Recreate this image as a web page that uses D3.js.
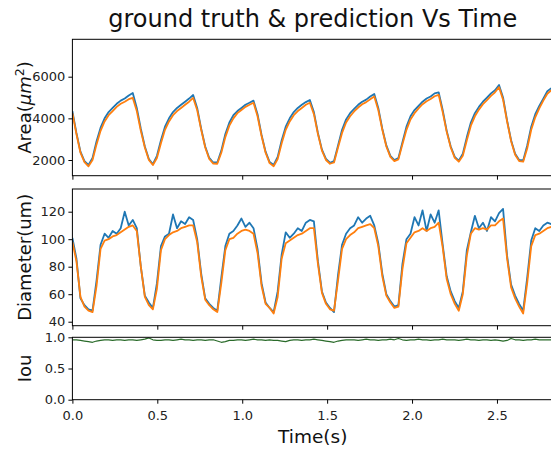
<!DOCTYPE html>
<html>
<head>
<meta charset="utf-8">
<script src="https://cdn.jsdelivr.net/npm/d3@7"></script>
<style>
  body { margin: 0; background: #fff; }
  svg { display: block; font-family: "DejaVu Sans", sans-serif; }
</style>
</head>
<body>
<div id="chart"></div>
<script>
// sampling step of the recording (s)
const dt = 0.0237;

const areaTruth = [
  4350, 3300, 2400, 1950, 1760, 2100, 2900, 3550, 4000, 4300,
  4500, 4700, 4850, 4950, 5100, 5220, 4500, 3500, 2650, 2050,
  1800, 2200, 2950, 3600, 4000, 4300, 4500, 4650, 4800, 4950,
  5120, 4500, 3500, 2650, 2100, 1880, 1880, 2450, 3250, 3800,
  4150, 4350, 4500, 4650, 4750, 4850, 4200, 3200, 2400, 1900,
  1760, 2150, 2950, 3600, 4000, 4300, 4500, 4650, 4780, 4880,
  4300, 3300, 2500, 2050, 1870, 1950, 2700, 3450, 3950, 4250,
  4450, 4650, 4800, 4900, 5050, 5170, 4500, 3500, 2700, 2200,
  2000, 2100, 2850, 3600, 4100, 4400, 4600, 4800, 4950, 5050,
  5200, 5250, 4400, 3400, 2650, 2150, 1970, 2300, 3100, 3800,
  4250, 4550, 4800, 5000, 5200, 5350, 5600, 5000, 3900, 2950,
  2300, 2000, 1980, 2700, 3600, 4200, 4600, 4950, 5300, 5450
];
const areaPred = [
  4250, 3250, 2350, 1900, 1700, 2000, 2750, 3400, 3850, 4150,
  4350, 4550, 4700, 4800, 4920, 4980, 4350, 3400, 2600, 2000,
  1760, 2100, 2800, 3450, 3850, 4150, 4350, 4500, 4650, 4800,
  4980, 4400, 3450, 2600, 2050, 1830, 1820, 2350, 3100, 3650,
  4000, 4250, 4400, 4550, 4650, 4750, 4100, 3150, 2350, 1850,
  1700, 2050, 2800, 3450, 3850, 4150, 4350, 4500, 4650, 4750,
  4200, 3250, 2450, 2000, 1820, 1880, 2600, 3300, 3800, 4100,
  4330, 4520, 4680, 4780, 4920, 5050, 4400, 3450, 2650, 2150,
  1950, 2030, 2750, 3450, 3950, 4250, 4480, 4680, 4820, 4930,
  5060, 5130, 4300, 3350, 2600, 2100, 1920, 2200, 2950, 3650,
  4100, 4420, 4680, 4880, 5080, 5250, 5500, 4900, 3850, 2900,
  2250, 1950, 1920, 2550, 3450, 4050, 4480, 4850, 5180, 5350
];

const diamTruth = [
  101, 86, 57, 52, 49, 48, 70, 96, 104, 101,
  106, 104, 108, 120, 110, 114, 108, 80, 59, 54,
  50, 68, 95, 102, 104, 118, 108, 113, 111, 116,
  114, 100, 75, 57, 53, 50, 48, 72, 95, 104,
  106, 110, 115, 109, 112, 108, 93, 68, 54, 50,
  47, 62, 89, 105, 101, 104, 108, 106, 112, 114,
  113, 84, 62, 54, 50, 47, 74, 96, 104, 108,
  110, 116, 112, 115, 117, 110, 97, 75, 60, 55,
  51, 52, 82, 100, 104, 116, 110, 121, 106, 118,
  112, 121, 96, 73, 62, 55, 50, 62, 92, 105,
  117, 108, 112, 106, 116, 113, 119, 122, 88, 67,
  59, 53, 48, 72, 99, 108, 106, 110, 112, 111
];
const diamPred = [
  98, 84, 58, 51, 48, 47, 66, 93, 99, 100,
  102, 103, 105, 107, 109, 110, 106, 80, 58, 52,
  49, 64, 92, 100, 103, 105, 106, 108, 109, 110,
  110, 98, 73, 56, 52, 49, 47, 68, 92, 100,
  101, 104, 106, 107, 106, 104, 90, 66, 53, 50,
  46, 58, 86, 97, 99, 101, 103, 104, 106, 108,
  108, 82, 61, 53, 49, 48, 70, 93, 100, 103,
  105, 108, 109, 110, 111, 108, 95, 73, 59, 54,
  50, 51, 78, 97, 101, 105, 106, 108, 106, 108,
  109, 112, 94, 71, 60, 53, 48, 60, 88, 104,
  108, 107, 108, 107, 110, 110, 113, 115, 86, 65,
  57, 51, 46, 68, 95, 103, 104, 106, 108, 109
];

const iou = [
  0.96, 0.96, 0.95, 0.94, 0.93, 0.92, 0.94, 0.95, 0.96, 0.96,
  0.95, 0.96, 0.96, 0.95, 0.96, 0.96, 0.95, 0.96, 0.97, 0.99,
  0.96, 0.95, 0.95, 0.96, 0.96, 0.95, 0.96, 0.97, 0.96, 0.96,
  0.95, 0.96, 0.96, 0.95, 0.96, 0.96, 0.94, 0.92, 0.93, 0.95,
  0.95, 0.96, 0.96, 0.95, 0.96, 0.97, 0.96, 0.96, 0.95, 0.96,
  0.95, 0.95, 0.94, 0.93, 0.95, 0.96, 0.96, 0.95, 0.96, 0.96,
  0.97, 0.96, 0.95, 0.94, 0.93, 0.92, 0.94, 0.95, 0.96, 0.96,
  0.96, 0.95, 0.96, 0.97, 0.96, 0.96, 0.95, 0.96, 0.96, 0.97,
  0.96, 0.98, 0.96, 0.95, 0.96, 0.96, 0.97, 0.96, 0.96, 0.95,
  0.96, 0.96, 0.97, 0.96, 0.96, 0.96, 0.95, 0.96, 0.97, 0.96,
  0.96, 0.95, 0.96, 0.96, 0.95, 0.96, 0.95, 0.94, 0.95, 0.98,
  0.96, 0.96, 0.95, 0.96, 0.96, 0.97, 0.96, 0.96, 0.96, 0.96
];

const xTicks = [0, 0.5, 1.0, 1.5, 2.0, 2.5];
const areaTicks = [2000, 4000, 6000];
const diamTicks = [40, 60, 80, 100, 120];
const iouTicks = [0, 0.5, 1.0];

const W = 551, H = 450;
const left = 72.4, right = 553;

const svg = d3.select('#chart').append('svg')
  .attr('width', W)
  .attr('height', H);

const x = d3.scaleLinear().domain([0, 2.83]).range([left, right]);
const times = d3.range(areaTruth.length).map(i => i * dt);

function panel(id, top, bottom, yDomain, yTicks, fmt, series, showX){
  const y = d3.scaleLinear().domain(yDomain).range([bottom, top]);

  svg.append('clipPath').attr('id', 'clip-' + id)
    .append('rect')
    .attr('x', left).attr('y', top)
    .attr('width', right - left).attr('height', bottom - top);

  const g = svg.append('g').attr('clip-path', 'url(#clip-' + id + ')');
  series.forEach(s => {
    const line = d3.line()
      .x((d, i) => x(times[i]))
      .y(d => y(d));
    g.append('path')
      .datum(s.values)
      .attr('d', line)
      .attr('fill', 'none')
      .attr('stroke', s.color)
      .attr('stroke-width', s.width)
      .attr('stroke-linejoin', 'round');
  });

  // frame
  svg.append('rect')
    .attr('x', left).attr('y', top)
    .attr('width', right - left).attr('height', bottom - top)
    .attr('fill', 'none')
    .attr('stroke', '#000')
    .attr('stroke-width', 1);

  const yAxis = svg.append('g')
    .attr('transform', 'translate(' + left + ',0)')
    .call(d3.axisLeft(y).tickValues(yTicks).tickSize(4).tickPadding(3).tickFormat(fmt));
  yAxis.select('.domain').remove();
  yAxis.selectAll('text').attr('font-size', 13).attr('fill', '#222').attr('font-family', 'DejaVu Sans');
  yAxis.selectAll('line').attr('stroke', '#000');

  const xAxis = svg.append('g')
    .attr('transform', 'translate(0,' + bottom + ')')
    .call(d3.axisBottom(x).tickValues(xTicks).tickSize(4).tickPadding(7)
      .tickFormat(showX ? d3.format('.1f') : ''));
  xAxis.select('.domain').remove();
  xAxis.selectAll('text').attr('font-size', 13).attr('fill', '#222').attr('font-family', 'DejaVu Sans');
  xAxis.selectAll('line').attr('stroke', '#000');

  return (top + bottom) / 2;
}

const c1 = panel('area', 39.3, 175.7, [1247, 7795], areaTicks, d3.format('d'), [
  {values: areaTruth, color: '#1f77b4', width: 1.8},
  {values: areaPred, color: '#ff7f0e', width: 1.8}
], false);

const c2 = panel('diam', 189, 325.7, [37.1, 136.5], diamTicks, d3.format('d'), [
  {values: diamTruth, color: '#1f77b4', width: 1.8},
  {values: diamPred, color: '#ff7f0e', width: 1.8}
], false);

const c3 = panel('iou', 337.3, 399.7, [0, 1.0], iouTicks, d3.format('.1f'), [
  {values: iou, color: '#2a6b2a', width: 1.2}
], true);

// y labels
function yLabel(cy){
  return svg.append('text')
    .attr('transform', 'translate(25,' + cy + ') rotate(-90)')
    .attr('text-anchor', 'middle')
    .attr('dy', '0.35em')
    .attr('font-size', 18)
    .attr('fill', '#111');
}
const areaLab = yLabel(c1);
areaLab.append('tspan').text('Area(');
areaLab.append('tspan').attr('font-style', 'italic').text('μm');
areaLab.append('tspan').attr('font-size', 12.5).attr('dy', '-0.55em').text('2');
areaLab.append('tspan').attr('dy', '0.35em').text(')');

yLabel(c2).text('Diameter(um)');
yLabel(c3).text('Iou');

svg.append('text')
  .attr('x', (left + right) / 2)
  .attr('y', 443)
  .attr('text-anchor', 'middle')
  .attr('font-size', 18.5)
  .attr('fill', '#111')
  .text('Time(s)');

svg.append('text')
  .attr('x', (left + right) / 2)
  .attr('y', 27)
  .attr('text-anchor', 'middle')
  .attr('font-size', 24)
  .attr('fill', '#111')
  .text('ground truth & prediction Vs Time');
</script>
</body>
</html>
